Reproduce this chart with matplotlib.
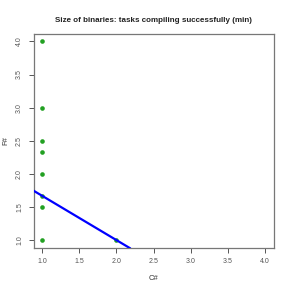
import matplotlib
matplotlib.use("Agg")
import matplotlib.pyplot as plt

x_vals = [1, 1, 1, 1, 1, 1, 1, 1, 2]
y_vals = [4.0, 3.0, 2.5, 2.333, 2.0, 1.667, 1.5, 1.0, 1.0]
line_intercept = 2.333
line_slope = -0.667
ticks = [1.0, 1.5, 2.0, 2.5, 3.0, 3.5, 4.0]
tick_labels = ["1.0", "1.5", "2.0", "2.5", "3.0", "3.5", "4.0"]

plt.rcParams['font.family'] = ['Liberation Sans', 'DejaVu Sans']
fig = plt.figure(figsize=(2.91, 2.91), dpi=100)
L, R, T, B = 33.5, 273.5, 33.5, 248
ax = fig.add_axes([L/291, 1-B/291, (R-L)/291, (B-T)/291])

ax.scatter(x_vals, y_vals, s=11, color="#22a022", zorder=3, linewidths=0)
ax.axline((0, line_intercept), slope=line_slope, color="#0000ff", linewidth=1.6, zorder=4)

ax.set_xlim(0.88, 4.12)
ax.set_ylim(0.88, 4.12)
ax.set_xticks(ticks)
ax.set_xticklabels(tick_labels)
ax.set_yticks(ticks)
ax.set_yticklabels(tick_labels, rotation=90, va="center")
for s in ax.spines.values():
    s.set_color("#777777")
    s.set_linewidth(0.9)
ax.tick_params(colors="#555555", labelsize=5, length=3.5, width=0.7, pad=4)
ax.set_xlabel("C#", fontsize=5.5, color="#333333", va="center")
ax.xaxis.set_label_coords(0.5, (B-278)/(B-T))
ax.set_ylabel("F#", fontsize=5.5, color="#333333", va="center")
ax.yaxis.set_label_coords((5.5-L)/(R-L), 0.5)
ax.set_title("Size of binaries: tasks compiling successfully (min)",
             fontsize=5.8, fontweight="bold", color="#222222", pad=8)

fig.savefig("out.png", dpi=100)
